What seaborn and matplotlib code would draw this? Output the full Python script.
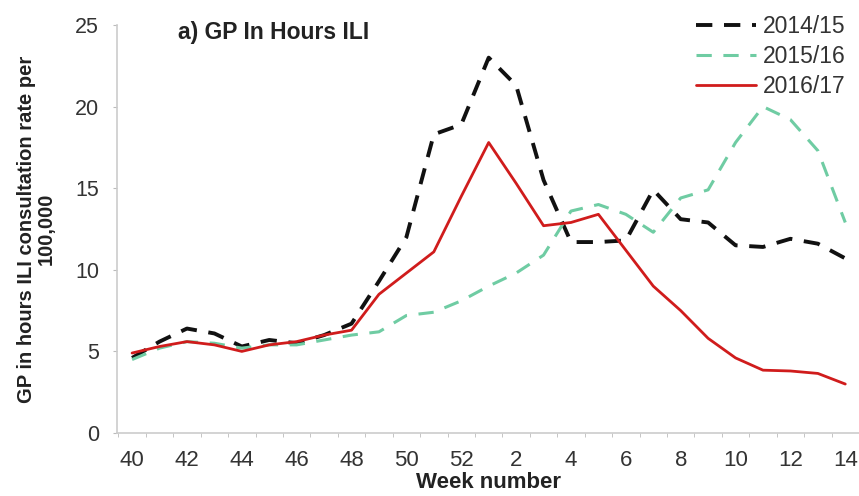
import numpy as np
import pandas as pd
import seaborn as sns
import matplotlib.pyplot as plt

# Week labels along the x axis (season runs week 40 to week 14)
weeks = [40, 41, 42, 43, 44, 45, 46, 47, 48, 49, 50, 51, 52,
         1, 2, 3, 4, 5, 6, 7, 8, 9, 10, 11, 12, 13, 14]

# GP in hours ILI consultation rate per 100,000
rate_1415 = [4.6, 5.6, 6.4, 6.1, 5.3, 5.7, 5.5, 6.0, 6.7, 9.3, 12.0, 18.3, 18.9,
             23.0, 21.3, 15.5, 11.7, 11.7, 11.8, 14.9, 13.1, 12.9, 11.5, 11.4, 11.9, 11.6, 10.7]
rate_1516 = [4.5, 5.2, 5.6, 5.5, 5.2, 5.4, 5.4, 5.7, 6.0, 6.2, 7.2, 7.4, 8.1,
             9.0, 9.8, 10.9, 13.6, 14.0, 13.4, 12.3, 14.4, 14.9, 17.8, 20.0, 19.2, 17.3, 12.9]
rate_1617 = [4.9, 5.3, 5.6, 5.4, 5.0, 5.4, 5.6, 6.0, 6.3, 8.5, 9.8, 11.1, 14.5,
             17.8, 15.3, 12.7, 12.9, 13.4, 11.2, 9.0, 7.5, 5.8, 4.6, 3.85, 3.8, 3.65, 3.0]

seasons = ["2014/15", "2015/16", "2016/17"]

pos = np.arange(len(weeks))
df = pd.DataFrame({
    "pos": np.tile(pos, 3),
    "rate": rate_1415 + rate_1516 + rate_1617,
    "season": np.repeat(seasons, len(weeks)),
})

sns.set_style("white")
plt.rcParams['font.family'] = ['Liberation Sans', 'DejaVu Sans']

fig = plt.figure(figsize=(8.59, 4.96), dpi=100)
ax = fig.add_axes([117 / 859, 1 - 433 / 496, 742 / 859, 408 / 496])

styles = {
    "2014/15": dict(color="#111111", lw=2.8, dashes=(4.2, 3.0)),
    "2015/16": dict(color="#6fcca3", lw=2.2, dashes=(5, 3.8)),
    "2016/17": dict(color="#d01c1c", lw=2.0, dashes=()),
}
for s in seasons:
    st = styles[s]
    sub = df[df["season"] == s]
    sns.lineplot(data=sub, x="pos", y="rate", ax=ax, color=st["color"],
                 linewidth=st["lw"], label=s)
    ln = ax.lines[-1]
    if st["dashes"]:
        ln.set_dashes(st["dashes"])

ax.set_xlim(-0.55, -0.55 + 742 / 27.5)
ax.set_ylim(0, 25)

ax.set_xticks(pos[::2])
ax.set_xticklabels([str(w) for w in weeks[::2]])
ax.set_xticks(np.arange(-0.5, len(weeks), 1), minor=True)
ax.tick_params(axis="x", which="major", length=0, pad=12, labelsize=16, labelcolor="#333333")
ax.tick_params(axis="x", which="minor", length=3, color="#bbbbbb", direction="out", bottom=True)
ax.set_yticks([0, 5, 10, 15, 20, 25])
ax.tick_params(axis="y", length=3, color="#bbbbbb", direction="out", left=True, pad=10,
               labelsize=15.5, labelcolor="#333333")

for side in ["top", "right"]:
    ax.spines[side].set_visible(False)
for side in ["left", "bottom"]:
    ax.spines[side].set_color("#cccccc")
    ax.spines[side].set_linewidth(1.2)

ax.set_xlabel("Week number", fontsize=16, fontweight="bold", color="#222222", labelpad=1)
ax.set_ylabel("GP in hours ILI consultation rate per\n100,000", fontsize=14.5,
              fontweight="bold", color="#222222", labelpad=14, linespacing=1.05)

fig.text(178 / 859, 1 - 32 / 496, "a) GP In Hours ILI", fontsize=16.5, fontweight="bold",
         color="#222222", va="center", ha="left")

leg = ax.legend(loc="upper right", bbox_to_anchor=(857 / 859, 1 - 4 / 496),
                bbox_transform=fig.transFigure, frameon=False, fontsize=16.5,
                handlelength=2.6, handletextpad=0.3, labelspacing=0.3, borderpad=0)
for t in leg.get_texts():
    t.set_color("#333333")

fig.savefig("out.png", dpi=100)
